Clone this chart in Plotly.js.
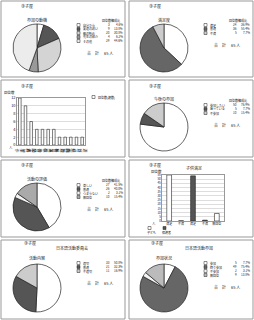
<!DOCTYPE html>
<html><head><meta charset="utf-8">
<script src="https://cdn.plot.ly/plotly-3.0.1.min.js"></script>
<style>body{margin:0;background:#fff}#c{width:254px;height:320px}</style>
</head><body><div id="c"></div><script>
// ---------- data ----------
const headerText = "寺子屋";
const pie1Title = "参加の動機";
const pie1Labels = ["自分から","友達の誘い","親の勧め","先生の紹介","その他"];
const pie1Counts = [3, 9, 20, 4, 29];
const pie2Title = "満足度";
const pie2Labels = ["満足","普通","不満"];
const pie2Counts = [24, 36, 5];
const bar3Title = "回答数";
const bar3Legend = "回答数(複数)";
const bar3Labels = ["工作","料理","読書","音楽","体操","英語","書道","理科","算数","絵画","将棋","遊び"];
const bar3Values = [12, 10, 6, 4, 4, 4, 4, 2, 2, 2, 2, 2];
const pie4Title = "今後の参加";
const pie4Labels = ["参加したい","迷っている","不参加"];
const pie4Counts = [50, 5, 10];
const pie5Title = "活動の評価";
const pie5Labels = ["楽しい","普通","つまらない","無回答"];
const pie5Counts = [27, 26, 2, 10];
const bar6Title = "子供満足";
const bar6Labels = ["満足","不満","満足","不満","無回答"];
const bar6SeriesA = "子ども";
const bar6AIdx = [0, 1, 4];
const bar6AValues = [55, 0.4, 9];
const bar6SeriesB = "保護者";
const bar6BIdx = [2, 3];
const bar6BValues = [54, 1];
const sub7Title = "日本語活動委員会";
const pie7Title = "活動内容";
const pie7Labels = ["適切","普通","不適切"];
const pie7Counts = [33, 21, 11];
const sub8Title = "日本語活動参加";
const pie8Title = "参加状況";
const pie8Labels = ["参加","時々参加","不参加","無回答"];
const pie8Counts = [5, 49, 2, 9];

// ---------- styles ----------
const pie1Colors = ["#ffffff","#555555","#d4d4d4","#999999","#ececec"];
const pie2Colors = ["#ffffff","#666666","#cccccc"];
const pie4Colors = ["#ffffff","#555555","#cccccc"];
const pie5Colors = ["#ffffff","#555555","#f4f4f4","#aaaaaa"];
const pie7Colors = ["#ffffff","#555555","#cccccc"];
const pie8Colors = ["#ffffff","#666666","#f4f4f4","#bbbbbb"];

const W=254,H=320,F="Noto Sans CJK JP";
const X=p=>p/W, Y=p=>1-p/H;
const traces=[],ann=[],shapes=[];
function txt(x,y,t,size,anchor){
  ann.push({xref:'paper',yref:'paper',x:X(x),y:Y(y),text:t,showarrow:false,borderpad:0,
    xanchor:anchor||'left',yanchor:'middle',font:{family:F,size:size||4,color:'#222'}});
}
function sq(x,y,c){
  shapes.push({type:'rect',xref:'paper',yref:'paper',x0:X(x),x1:X(x+3),y0:Y(y+1.5),y1:Y(y-1.5),
    fillcolor:c,line:{color:'#222',width:0.5}});
}
function pie(x0,y0,title,labels,counts,colors,o){
  const cx=x0+37, cy=y0+o.cy, r=24;
  traces.push({type:'pie',values:counts,labels:labels,sort:false,direction:'clockwise',rotation:0,
    textinfo:'none',marker:{colors:colors,line:{color:'#222',width:0.7}},
    domain:{x:[X(cx-r),X(cx+r)],y:[Y(cy+r),Y(cy-r)]},showlegend:false});
  txt(x0+37,y0+o.ty,title,4,'center');
  const total=counts.reduce((a,b)=>a+b,0);
  if(o.header) txt(x0+111,y0+o.ly-4.5,'回答数構成比',3,'center');
  labels.forEach((l,i)=>{
    const y=y0+o.ly+i*4;
    sq(x0+77,y,colors[i]);
    txt(x0+81.5,y,l,3);
    txt(x0+111,y,String(counts[i]),3,'right');
    txt(x0+123.5,y,(counts[i]/total*100).toFixed(1)+'%',3,'right');
  });
  const ty=y0+o.ly+(labels.length-1)*4+12;
  txt(x0+86,ty,'合　計',4,'left');
  txt(x0+114,ty,total+' 人',4,'right');
}
// panel frames
[[1,1,125,77],[129,1,253,77],[1,80,125,157],[129,80,253,157],[1,160,125,237],[129,160,253,237],[1,240,125,319],[129,240,253,319]]
 .forEach(b=>shapes.push({type:'rect',xref:'paper',yref:'paper',x0:X(b[0]),x1:X(b[2]),y0:Y(b[3]),y1:Y(b[1]),line:{color:'#999',width:1},fillcolor:'rgba(0,0,0,0)'}));
// headers
[[27,6],[155,6],[27,86],[155,86],[27,165],[155,165],[30,243],[157,243]].forEach(p=>txt(p[0],p[1],headerText,4,'center'));

pie(0,0,pie1Title,pie1Labels,pie1Counts,pie1Colors,{cy:48,ty:20,ly:25,header:true});
pie(127,0,pie2Title,pie2Labels,pie2Counts,pie2Colors,{cy:48,ty:20,ly:25,header:true});
pie(127,78,pie4Title,pie4Labels,pie4Counts,pie4Colors,{cy:49,ty:21,ly:27,header:true});
pie(0,158,pie5Title,pie5Labels,pie5Counts,pie5Colors,{cy:49,ty:21,ly:27,header:true});
pie(0,238,pie7Title,pie7Labels,pie7Counts,pie7Colors,{cy:50,ty:20,ly:25,header:false});
pie(127,238,pie8Title,pie8Labels,pie8Counts,pie8Colors,{cy:50,ty:20,ly:25,header:false});
txt(72,248,sub7Title,4,'center');
txt(199,248,sub8Title,4,'center');

// bar panel 3
traces.push({type:'bar',x:bar3Labels,y:bar3Values,xaxis:'x',yaxis:'y',width:0.45,
  marker:{color:'#fff',line:{color:'#222',width:0.6}},showlegend:false});
txt(3,92,bar3Title,3.5,'left');
txt(11,147,'人',3.5,'center');
sq(92,97,'#fff'); txt(96.5,97,bar3Legend,3);

// bar panel 6
traces.push({type:'bar',x:bar6AIdx,y:bar6AValues,xaxis:'x2',yaxis:'y2',width:0.4,
  marker:{color:'#fff',line:{color:'#222',width:0.6}},showlegend:false});
traces.push({type:'bar',x:bar6BIdx,y:bar6BValues,xaxis:'x2',yaxis:'y2',width:0.4,
  marker:{color:'#555',line:{color:'#222',width:0.6}},showlegend:false});
txt(194,168,bar6Title,4,'center');
txt(150,171,bar3Title,3.5,'left');
txt(154,223,'人',3.5,'center');
sq(148,228,'#fff'); txt(146,232.5,bar6SeriesA,3,'left');
sq(163,228,'#555'); txt(161,232.5,bar6SeriesB,3,'left');

const tf={family:F,size:4,color:'#222'};
const layout={width:W,height:H,margin:{l:0,r:0,t:0,b:0},paper_bgcolor:'#fff',plot_bgcolor:'#fff',
  showlegend:false,barmode:'overlay',
  xaxis:{domain:[X(17),X(85)],anchor:'y',type:'category',showgrid:false,showline:true,linecolor:'#555',linewidth:0.6,mirror:true,
    tickfont:tf,tickmode:'array',tickvals:bar3Labels,ticktext:bar3Labels.map(s=>s.split('').join('<br>')),ticks:'',fixedrange:true},
  yaxis:{domain:[Y(145),Y(98)],anchor:'x',range:[0,12],dtick:2,showgrid:true,gridcolor:'#bbb',gridwidth:0.5,
    showline:true,linecolor:'#555',linewidth:0.6,mirror:true,tickfont:tf,ticks:'',zeroline:false},
  xaxis2:{domain:[X(162),X(224)],anchor:'y2',range:[-0.6,4.6],showgrid:false,showline:true,linecolor:'#555',linewidth:0.6,mirror:true,
    tickfont:{family:F,size:3,color:'#222'},tickmode:'array',tickvals:[0,1,2,3,4],ticktext:bar6Labels,ticks:'',zeroline:false},
  yaxis2:{domain:[Y(221),Y(175)],anchor:'x2',range:[0,55],dtick:5,showgrid:true,gridcolor:'#bbb',gridwidth:0.5,
    showline:true,linecolor:'#555',linewidth:0.6,mirror:true,tickfont:{family:F,size:3,color:'#222'},ticks:'',zeroline:false},
  annotations:ann,shapes:shapes,font:{family:F}};
Plotly.newPlot('c',traces,layout,{staticPlot:true,displayModeBar:false});
</script></body></html>
